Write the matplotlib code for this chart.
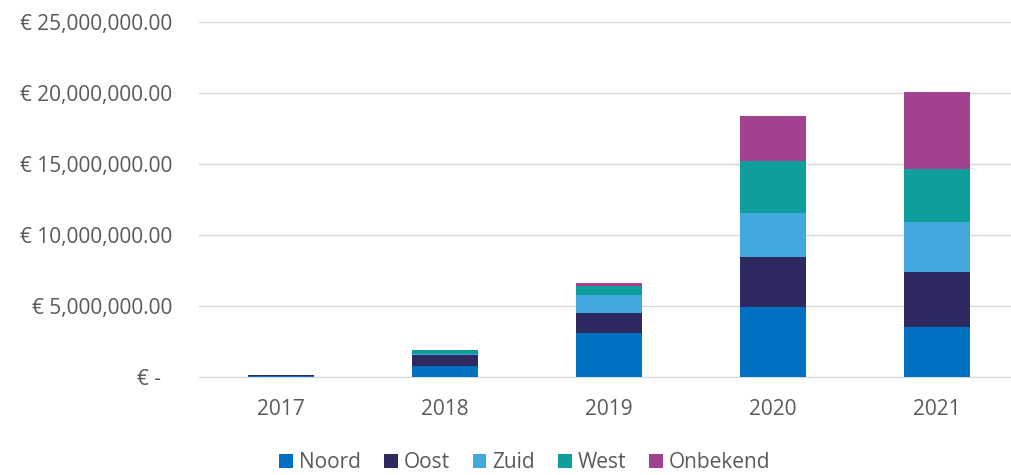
import numpy as np
import matplotlib.pyplot as plt
from matplotlib.ticker import FuncFormatter

# data (euro)
years = ['2017', '2018', '2019', '2020', '2021']
noord = [0.10e6, 0.80e6, 3.08e6, 4.91e6, 3.54e6]
oost = [0.07e6, 0.75e6, 1.41e6, 3.54e6, 3.83e6]
zuid = [0.0, 0.05e6, 1.31e6, 3.08e6, 3.52e6]
west = [0.0, 0.30e6, 0.63e6, 3.70e6, 3.74e6]
onbekend = [0.0, 0.0, 0.21e6, 3.13e6, 5.44e6]

series = [('Noord', noord, '#0070C0'),
          ('Oost', oost, '#2E2A61'),
          ('Zuid', zuid, '#41A8DF'),
          ('West', west, '#0E9E9B'),
          ('Onbekend', onbekend, '#A2418F')]

plt.rcParams['font.family'] = ['Open Sans', 'DejaVu Sans']
txt = '#595959'
fs = 15

fig = plt.figure(figsize=(10.11, 4.75), dpi=100)
ax = fig.add_axes([199/1011, 1 - 377/475, 1 - 199/1011, 355/475])

x = np.arange(len(years))
bottom = np.zeros(len(years))
for name, vals, col in series:
    ax.bar(x, vals, 0.40, bottom=bottom, color=col, label=name, zorder=3)
    bottom += np.array(vals)

def euro(v, pos):
    if v == 0:
        return '€ -  '
    return '€ {:,.2f}'.format(v)

ax.set_ylim(0, 25e6)
ax.set_yticks(np.arange(0, 25e6 + 1, 5e6))
ax.yaxis.set_major_formatter(FuncFormatter(euro))
ax.set_xlim(-0.5, 4.45)
ax.set_xticks(x)
ax.set_xticklabels(years)
ax.grid(axis='y', color='#d9d9d9', linewidth=1, zorder=0)
for s in ['top', 'right', 'left']:
    ax.spines[s].set_visible(False)
ax.spines['bottom'].set_color('#d9d9d9')
ax.tick_params(axis='both', length=0, labelsize=fs, colors=txt)
ax.tick_params(axis='y', pad=19.4)
ax.tick_params(axis='x', pad=16)

fig.legend(loc='center', bbox_to_anchor=(525/1011, 1 - 463/475), ncol=5,
           frameon=False, fontsize=fs, labelcolor=txt, handlelength=0.65,
           handleheight=0.65, handletextpad=0.3, columnspacing=1.1)

fig.savefig('out.png', dpi=100)
